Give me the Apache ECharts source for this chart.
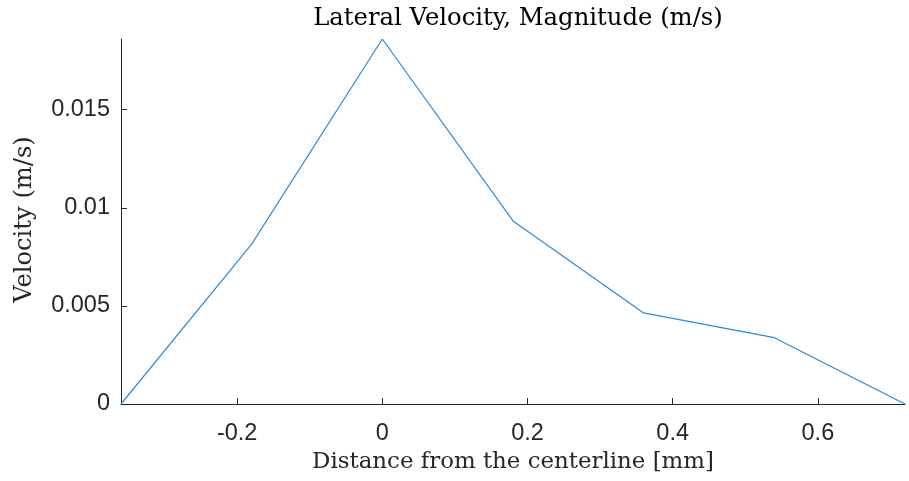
<!DOCTYPE html>
<html>
<head>
<meta charset="utf-8">
<script src="https://cdn.jsdelivr.net/npm/echarts@6/dist/echarts.min.js"></script>
<style>html,body{margin:0;padding:0;background:#fff;}#c{width:909px;height:481px;}</style>
</head>
<body>
<div id="c"></div>
<script>
const distances = [-0.36, -0.18, 0, 0.18, 0.36, 0.54, 0.72];
const velocities = [0, 0.00815, 0.0186, 0.00933, 0.00464, 0.00338, 0];
const xTicks = [-0.2, 0, 0.2, 0.4, 0.6];
const yTicks = [0, 0.005, 0.01, 0.015];

const chart = echarts.init(document.getElementById('c'), null, {renderer: 'canvas'});
const axisColor = '#262626';
const sans = '"Liberation Sans", Arial, sans-serif';
const serif = '"DejaVu Serif", "Liberation Serif", serif';
chart.setOption({
  animation: false,
  backgroundColor: '#ffffff',
  title: {
    text: 'Lateral Velocity, Magnitude (m/s)',
    left: 513, top: 2, textAlign: 'center',
    textStyle: {fontFamily: serif, fontSize: 24.3, fontWeight: 'normal', color: '#000'}
  },
  grid: {left: 121, right: 4, top: 39, bottom: 77, containLabel: false, outerBoundsMode: 'none'},
  xAxis: {
    type: 'value', min: -0.36, max: 0.72,
    name: 'Distance from the centerline [mm]', nameLocation: 'middle', nameGap: 46,
    nameTextStyle: {fontFamily: serif, fontSize: 22.9, color: '#262626'},
    axisLine: {show: true, onZero: false, lineStyle: {color: axisColor, width: 1}},
    axisTick: {show: true, inside: true, length: 6, customValues: xTicks, lineStyle: {color: axisColor}},
    axisLabel: {customValues: xTicks, margin: 18, fontFamily: sans, fontSize: 23.5, color: '#262626',
      formatter: v => String(Math.round(v * 1000) / 1000)},
    splitLine: {show: false}
  },
  yAxis: {
    type: 'value', min: 0, max: 0.0186,
    name: 'Velocity (m/s)', nameLocation: 'middle', nameGap: 84,
    nameTextStyle: {fontFamily: serif, fontSize: 24.2, color: '#262626', padding: [0, 0, 0, 4]},
    axisLine: {show: true, onZero: false, lineStyle: {color: axisColor, width: 1}},
    axisTick: {show: true, inside: true, length: 6, customValues: yTicks, lineStyle: {color: axisColor}},
    axisLabel: {customValues: yTicks, margin: 11, fontFamily: sans, fontSize: 23.5, color: '#262626',
      padding: [4, 0, 0, 0],
      formatter: v => String(Math.round(v * 100000) / 100000)},
    splitLine: {show: false}
  },
  series: [{
    type: 'line',
    data: distances.map((d, i) => [d, velocities[i]]),
    showSymbol: false,
    lineStyle: {color: '#2f8ad0', width: 1.2},
    itemStyle: {color: '#2f8ad0'}
  }]
});
</script>
</body>
</html>
